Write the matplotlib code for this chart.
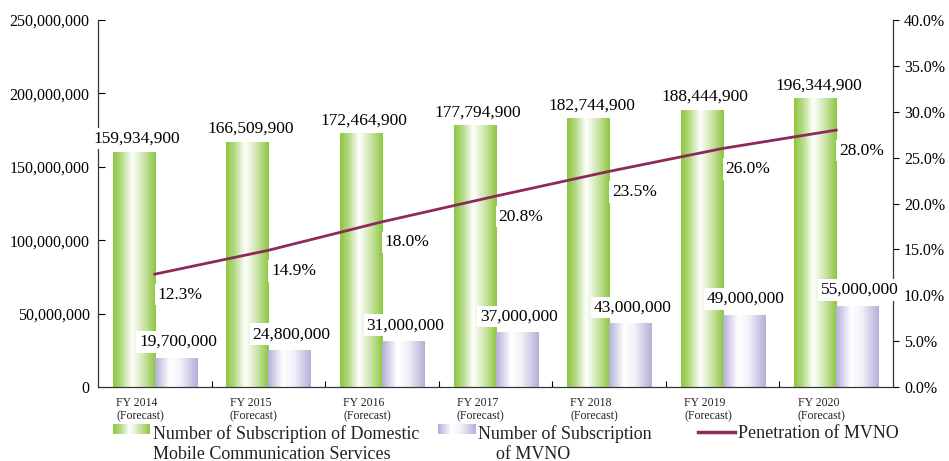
import numpy as np
import matplotlib.pyplot as plt
from matplotlib.colors import LinearSegmentedColormap
from matplotlib.transforms import blended_transform_factory, offset_copy

plt.rcParams['font.family'] = ['Liberation Serif', 'DejaVu Serif']

# data
years = ['FY 2014', 'FY 2015', 'FY 2016', 'FY 2017', 'FY 2018', 'FY 2019', 'FY 2020']
domestic = [159934900, 166509900, 172464900, 177794900, 182744900, 188444900, 196344900]
mvno = [19700000, 24800000, 31000000, 37000000, 43000000, 49000000, 55000000]
penetration = [12.3, 14.9, 18.0, 20.8, 23.5, 26.0, 28.0]

green = '#8cc63e'
purple = '#b3afd8'
line_col = '#8c2a5c'

green_cmap = LinearSegmentedColormap.from_list(
    'g', [(0, green), (0.2, '#b5da86'), (0.45, '#ffffff'), (0.75, '#c6e2a0'), (1, green)])
purple_cmap = LinearSegmentedColormap.from_list(
    'p', [(0, purple), (0.35, '#ffffff'), (0.6, '#f2f1f9'), (1, purple)])

fig = plt.figure(figsize=(9.49, 4.61), dpi=100)
ax = fig.add_axes([0.1033, 0.1605, 0.8377, 0.7961])
ax2 = ax.twinx()

x = np.arange(len(years))
w = 0.37
grad = np.linspace(0, 1, 256).reshape(1, -1)


def gradient_bar(xl, h, cmap):
    ax.imshow(grad, cmap=cmap, extent=[xl, xl + w, 0, h], aspect='auto',
              interpolation='bilinear', zorder=2)


for i in range(len(years)):
    gradient_bar(x[i] - w, domestic[i], green_cmap)
    gradient_bar(x[i], mvno[i], purple_cmap)

ax.set_xlim(-0.5, len(years) - 0.5)
ax.set_ylim(0, 250000000)
ax.set_yticks(np.arange(0, 250000001, 50000000))
ax.set_yticklabels([f'{int(v):,}' for v in np.arange(0, 250000001, 50000000)], fontsize=11.5)
ax.tick_params(axis='y', direction='in', length=5, pad=6)
ax.set_xticks(x[:-1] + 0.5)
ax.set_xticklabels([])
ax.tick_params(axis='x', direction='in', length=4)
ax.spines['top'].set_visible(False)
for s in ax.spines.values():
    s.set_color('#333333')

ax2.plot(x, penetration, color=line_col, lw=2, zorder=3)
ax2.set_ylim(0, 40)
ax2.set_yticks(np.arange(0, 41, 5))
ax2.set_yticklabels([f'{v:.1f}%' for v in np.arange(0, 41, 5)], fontsize=11.5)
ax2.tick_params(axis='y', direction='out', length=4, pad=4)
ax2.spines['top'].set_visible(False)
for s in ax2.spines.values():
    s.set_color('#333333')

box = dict(facecolor='white', edgecolor='none', pad=2)
up = offset_copy(ax.transData, fig=fig, x=0, y=4, units='points')
up2 = offset_copy(ax.transData, fig=fig, x=0, y=6, units='points')
for i in range(len(years)):
    ax2.text(x[i] - w / 2 + 0.03, domestic[i], f'{domestic[i]:,}', transform=up,
             ha='center', va='bottom', fontsize=12.5, bbox=box, zorder=5)
    ax2.text(x[i] + w / 2 + 0.02, mvno[i], f'{mvno[i]:,}', transform=up2,
             ha='center', va='bottom', fontsize=12.5, bbox=box, zorder=5)

down = offset_copy(ax2.transData, fig=fig, x=2, y=-9, units='points')
for i in range(len(years)):
    ax2.text(x[i], penetration[i], f'{penetration[i]:.1f}%', transform=down,
             ha='left', va='top', fontsize=12.5, bbox=box, zorder=5)

# category labels
tr = blended_transform_factory(ax.transData, ax.transAxes)
for i, yr in enumerate(years):
    ax.text(x[i] - 0.13, -0.028, yr + '\n(Forecast)', transform=tr, ha='center',
            va='top', fontsize=8.5, multialignment='left', linespacing=1.15, color='#222222')

# legend
lax = fig.add_axes([0, 0, 1, 1], zorder=-1)
lax.set_xlim(0, 949)
lax.set_ylim(461, 0)
lax.axis('off')
lax.imshow(grad, cmap=green_cmap, extent=[113, 150, 434, 424], aspect='auto')
lax.imshow(grad, cmap=purple_cmap, extent=[438, 476, 434, 424], aspect='auto')
lax.plot([698, 735], [432, 432], color=line_col, lw=2.5)
fig.text(153 / 949, 1 - 425 / 461, 'Number of Subscription of Domestic\nMobile Communication Services',
         ha='left', va='top', fontsize=13, linespacing=1.22, color='#222222')
fig.text(478 / 949, 1 - 425 / 461, 'Number of Subscription\n    of MVNO',
         ha='left', va='top', fontsize=13, linespacing=1.22, color='#222222')
fig.text(738 / 949, 1 - 425 / 461, 'Penetration of MVNO',
         ha='left', va='top', fontsize=13, color='#222222')

fig.savefig('out.png', dpi=100)
